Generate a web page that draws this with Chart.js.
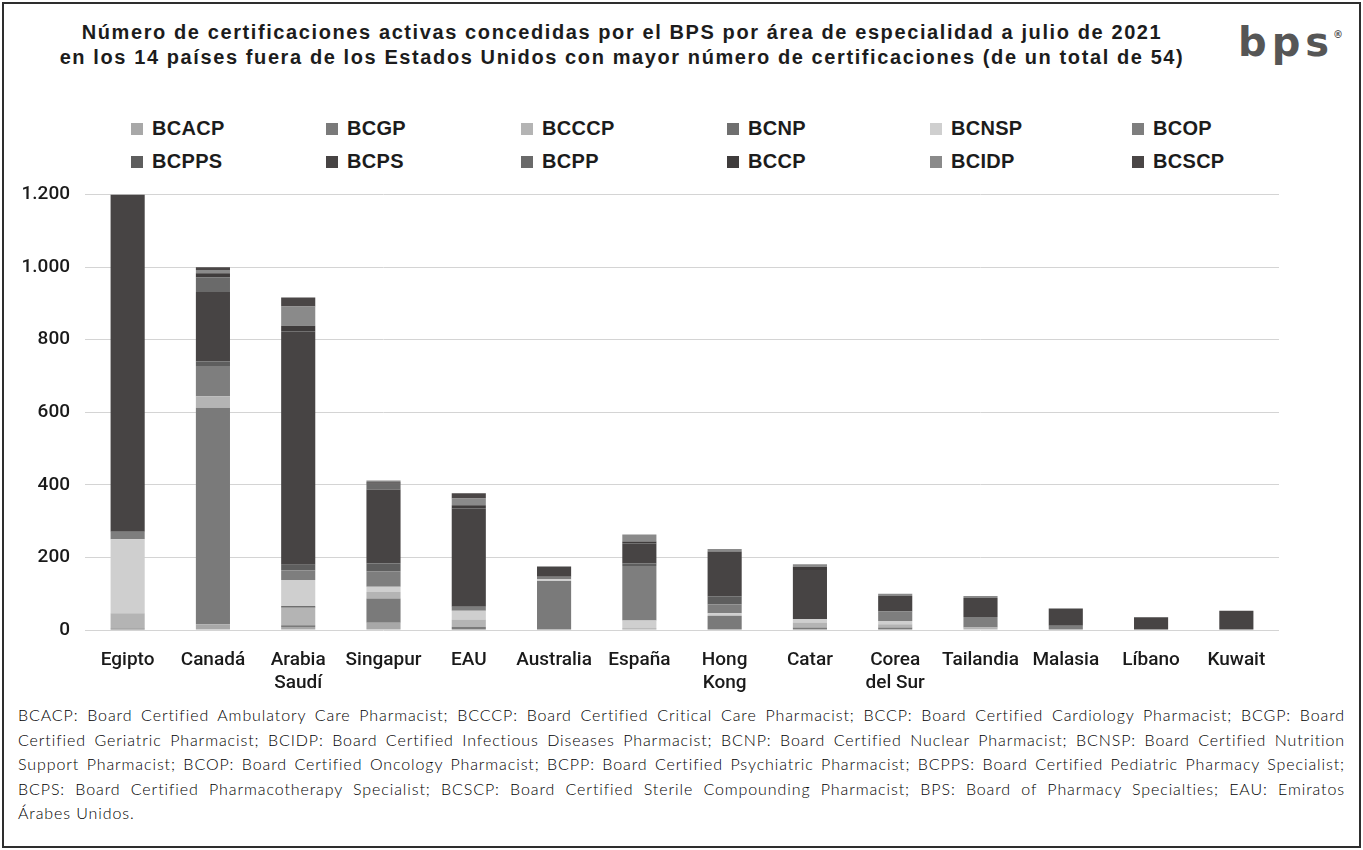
<!DOCTYPE html>
<html lang="es">
  <head>
    <meta charset="UTF-8" />
    <title>Certificaciones BPS por país</title>
    <script src="https://cdn.jsdelivr.net/npm/chart.js"></script>
    <style>
      body {
        margin: 0;
        width: 1363px;
        height: 850px;
        background: #fff;
        position: relative;
        overflow: hidden;
        font-family: "Liberation Sans", Arial, sans-serif;
        color: #1a1a1a;
      }
      .marco {
        position: absolute;
        left: 2px;
        top: 2px;
        width: 1359px;
        height: 846px;
        border: 2px solid #2e2e2e;
        box-sizing: border-box;
      }
      .titulo {
        position: absolute;
        left: 0;
        top: 20px;
        width: 1244px;
        text-align: center;
        font-weight: bold;
        font-size: 20px;
        letter-spacing: 1.6px;
        line-height: 25px;
        color: #1c1c1c;
        white-space: nowrap;
      }
      .logo {
        position: absolute;
        left: 1238px;
        top: 19px;
        font-family: "DejaVu Sans", sans-serif;
        font-weight: bold;
        font-size: 40px;
        line-height: 40px;
        letter-spacing: 5px;
        color: #565656;
      }
      .logo sup {
        font-size: 10px;
        letter-spacing: 0;
        position: relative;
        top: -4px;
        margin-left: -1px;
      }
      #leyenda {
        position: absolute;
        left: 131px;
        top: 112px;
        display: grid;
        grid-template-columns: 195px 195px 206px 203px 202px 200px;
        grid-auto-rows: 33px;
      }
      #leyenda div {
        display: flex;
        align-items: center;
        font-weight: bold;
        font-size: 20px;
        letter-spacing: 0.3px;
        color: #1c1c1c;
      }
      #leyenda span {
        display: inline-block;
        width: 12px;
        height: 12px;
        margin-right: 9px;
      }
      .grafico {
        position: absolute;
        left: 0;
        top: 168px;
        width: 1363px;
        height: 532px;
      }
      .nota {
        position: absolute;
        left: 18px;
        top: 703px;
        width: 1327px;
        font-family: Lato, "Open Sans", sans-serif;
        font-weight: 300;
        font-size: 16px;
        letter-spacing: 0.9px;
        line-height: 24.5px;
        color: #000;
      }
      .nota div {
        white-space: nowrap;
        text-align: justify;
        text-align-last: justify;
      }
      .nota div.ultima {
        text-align-last: left;
      }
    </style>
  </head>
  <body>
    <div class="marco"></div>
    <div class="titulo">
      Número de certificaciones activas concedidas por el BPS por área de especialidad a julio de 2021<br />
      en los 14 países fuera de los Estados Unidos con mayor número de certificaciones (de un total de 54)
    </div>
    <div class="logo">bps<sup>®</sup></div>
    <div id="leyenda"></div>
    <div class="grafico">
      <canvas id="certChart" width="1363" height="532"></canvas>
    </div>
    <div class="nota">
      <div>BCACP: Board Certified Ambulatory Care Pharmacist; BCCCP: Board Certified Critical Care Pharmacist; BCCP: Board Certified Cardiology Pharmacist; BCGP: Board</div>
      <div>Certified Geriatric Pharmacist; BCIDP: Board Certified Infectious Diseases Pharmacist; BCNP: Board Certified Nuclear Pharmacist; BCNSP: Board Certified Nutrition</div>
      <div>Support Pharmacist; BCOP: Board Certified Oncology Pharmacist; BCPP: Board Certified Psychiatric Pharmacist; BCPPS: Board Certified Pediatric Pharmacy Specialist;</div>
      <div>BCPS: Board Certified Pharmacotherapy Specialist; BCSCP: Board Certified Sterile Compounding Pharmacist; BPS: Board of Pharmacy Specialties; EAU: Emiratos</div>
      <div class="ultima">Árabes Unidos.</div>
    </div>
    <script>
      // Países (eje X)
      const paises = [
        "Egipto",
        "Canadá",
        ["Arabia", "Saudí"],
        "Singapur",
        "EAU",
        "Australia",
        "España",
        ["Hong", "Kong"],
        "Catar",
        ["Corea", "del Sur"],
        "Tailandia",
        "Malasia",
        "Líbano",
        "Kuwait",
      ]

      // Valores por especialidad, en el orden de los países
      const BCACP = [0, 16, 8, 20, 0, 0, 5, 0, 0, 0, 0, 0, 0, 0]
      const BCGP = [4, 596, 5, 67, 9, 135, 0, 39, 7, 7, 0, 0, 0, 0]
      const BCCCP = [42, 32, 48, 18, 20, 0, 0, 0, 14, 9, 7, 0, 0, 0]
      const BCNP = [0, 0, 5, 0, 0, 0, 0, 0, 0, 0, 0, 0, 0, 0]
      const BCNSP = [204, 0, 72, 14, 24, 5, 21, 7, 9, 9, 0, 0, 0, 0]
      const BCOP = [21, 83, 26, 43, 11, 7, 150, 24, 0, 26, 29, 12, 0, 0]
      const BCPPS = [0, 13, 16, 21, 0, 0, 7, 23, 0, 0, 0, 0, 0, 0]
      const BCPS = [929, 191, 642, 204, 271, 28, 55, 123, 135, 43, 52, 47, 35, 53]
      const BCPP = [0, 41, 0, 16, 0, 0, 0, 0, 0, 0, 0, 0, 0, 0]
      const BCCP = [0, 11, 16, 4, 9, 0, 6, 0, 9, 0, 0, 0, 0, 0]
      const BCIDP = [0, 9, 53, 5, 18, 0, 19, 7, 7, 6, 6, 0, 0, 0]
      const BCSCP = [0, 7, 25, 0, 15, 0, 0, 0, 0, 0, 0, 0, 0, 0]

      const series = [
        ["BCACP", BCACP, "#a8a8a8"],
        ["BCGP", BCGP, "#7a7a7a"],
        ["BCCCP", BCCCP, "#b4b4b4"],
        ["BCNP", BCNP, "#6f6f6f"],
        ["BCNSP", BCNSP, "#cfcfcf"],
        ["BCOP", BCOP, "#7e7e7e"],
        ["BCPPS", BCPPS, "#5e5e5e"],
        ["BCPS", BCPS, "#474444"],
        ["BCPP", BCPP, "#6a6a6a"],
        ["BCCP", BCCP, "#3f3c3c"],
        ["BCIDP", BCIDP, "#8a8a8a"],
        ["BCSCP", BCSCP, "#4a4646"],
      ]

      // Eje Y: 1.200, 1.000 ...
      function formato(v) {
        return String(v).replace(/\B(?=(\d{3})+(?!\d))/g, ".")
      }

      // Leyenda en rejilla (6 columnas)
      const leyenda = document.getElementById("leyenda")
      series.forEach(([nombre, , color]) => {
        const item = document.createElement("div")
        item.innerHTML = `<span style="background:${color}"></span>${nombre}`
        leyenda.appendChild(item)
      })

      const fuenteEje = { family: "Roboto, Liberation Sans, Arial", size: 19, weight: 500 }

      const ctx = document.getElementById("certChart").getContext("2d")
      new Chart(ctx, {
        type: "bar",
        data: {
          labels: paises,
          datasets: series.map(([nombre, valores, color]) => ({
            label: nombre,
            data: valores,
            backgroundColor: color,
            borderWidth: 0,
            barPercentage: 0.4,
            categoryPercentage: 1,
          })),
        },
        options: {
          responsive: false,
          animation: false,
          layout: { padding: { top: 2, right: 84, left: 0, bottom: 0 } },
          plugins: {
            legend: { display: false },
            tooltip: { enabled: false },
          },
          scales: {
            x: {
              stacked: true,
              grid: { display: false },
              border: { display: false },
              ticks: {
                color: "#1a1a1a",
                font: fuenteEje,
                padding: 11,
                maxRotation: 0,
                autoSkip: false,
              },
              afterFit: (scale) => {
                scale.height = 70
              },
            },
            y: {
              stacked: true,
              min: 0,
              max: 1200,
              border: { display: false },
              grid: { color: "#d4d4d4", lineWidth: 1, drawTicks: false },
              ticks: {
                stepSize: 200,
                color: "#1a1a1a",
                font: fuenteEje,
                padding: 15,
                callback: (v) => formato(v),
              },
              afterFit: (scale) => {
                scale.width = 85
              },
            },
          },
        },
      })
    </script>
  </body>
</html>
